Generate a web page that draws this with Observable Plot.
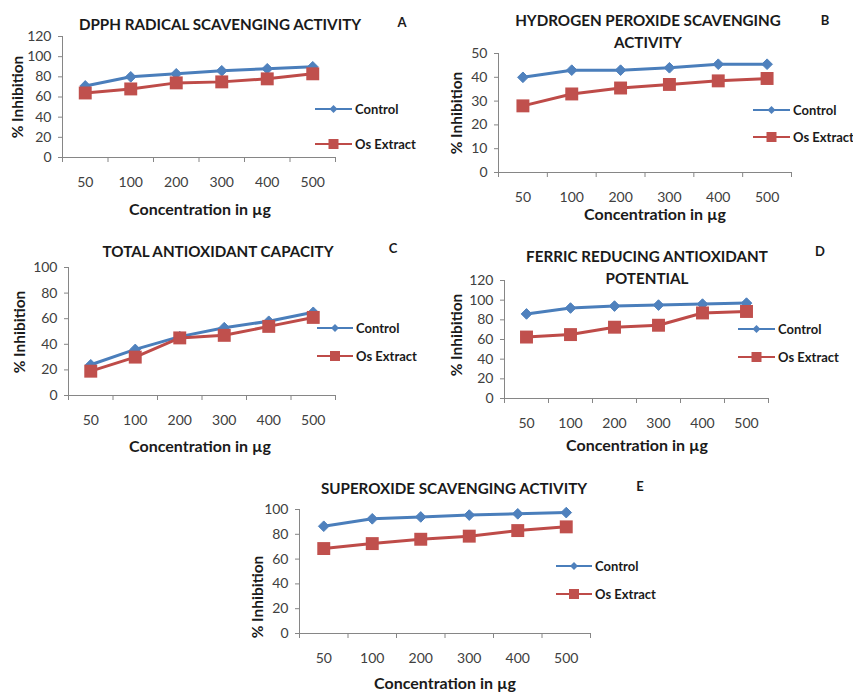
<!DOCTYPE html>
<html><head><meta charset="utf-8">
<script src="https://cdn.jsdelivr.net/npm/d3@7"></script>
<script src="https://cdn.jsdelivr.net/npm/@observablehq/plot@0.6"></script>
<style>
body{margin:0;background:#fff;font-family:Lato,"Open Sans",sans-serif;}
#page{position:relative;width:853px;height:692px;overflow:hidden;background:#fff;}
.panel{position:absolute;overflow:hidden;}
.panel svg{position:absolute;left:0;top:0;}
.t{position:absolute;white-space:nowrap;line-height:1;transform:translate(-50%,-50%);font-weight:bold;color:#1a1a1a;}
.title{font-size:15.2px;}
.letter{font-size:13px;}
.xt{font-size:16px;}
.yt{font-size:15.5px;transform:translate(-50%,-50%) rotate(-90deg);}
.leg{position:absolute;white-space:nowrap;font-size:13px;font-weight:bold;color:#1a1a1a;line-height:1;transform:translateY(-50%);}
.sw{position:absolute;overflow:visible;}
</style></head><body><div id="page"></div>
<script>
// ---- data ----
const concentrations = ["50", "100", "200", "300", "400", "500"];
const seriesNames = ["Control", "Os Extract"];
const xAxisTitle = "Concentration in µg";
const yAxisTitle = "% Inhibition";

const titleA = ["DPPH RADICAL SCAVENGING ACTIVITY"];
const dpphControl = [71, 80, 83, 86, 88, 90];
const dpphOs = [64, 68, 74, 75, 78, 83];
const ticksA = [0, 20, 40, 60, 80, 100, 120];

const titleB = ["HYDROGEN PEROXIDE SCAVENGING", "ACTIVITY"];
const h2o2Control = [40, 43, 43, 44, 45.5, 45.5];
const h2o2Os = [28, 33, 35.5, 37, 38.5, 39.5];
const ticksB = [0, 10, 20, 30, 40, 50];

const titleC = ["TOTAL ANTIOXIDANT CAPACITY"];
const tacControl = [24, 36, 46, 53, 58, 65];
const tacOs = [19, 30, 45, 47, 54, 61];
const ticksC = [0, 20, 40, 60, 80, 100];

const titleD = ["FERRIC REDUCING ANTIOXIDANT", "POTENTIAL"];
const frapControl = [86, 92, 94, 95, 96, 97];
const frapOs = [62.5, 65, 72.5, 74.5, 87, 88.5];
const ticksD = [0, 20, 40, 60, 80, 100, 120];

const titleE = ["SUPEROXIDE SCAVENGING ACTIVITY"];
const soControl = [86.5, 92.5, 94, 95.5, 96.5, 97.5];
const soOs = [68.5, 72.5, 76, 78.5, 83, 86];
const ticksE = [0, 20, 40, 60, 80, 100];

const panelLetters = ["A", "B", "C", "D", "E"];

// ---- style ----
const colControlLine = "#4A7EBB", colControl = "#4F81BD";
const colOsLine = "#BE4B48", colOs = "#C0504D";
const axisCol = "#868686";

// ---- layout (page pixel coordinates) ----
const panels = [
  {title: titleA, control: dpphControl, os: dpphOs, ticks: ticksA, letter: panelLetters[0],
   box: [0, 0, 425, 228], frame: [62, 335, 36, 157], titleC: [220, 25], letterAt: [402, 22],
   xt: [200, 209], yt: [18, 97], leg: [315, 352, 355, 109, 144]},
  {title: titleB, control: h2o2Control, os: h2o2Os, ticks: ticksB, letter: panelLetters[1],
   box: [425, 0, 428, 228], frame: [498, 791, 53, 172], titleC: [648, 21], letterAt: [825, 20],
   xt: [655, 214], yt: [457, 113], leg: [753, 790, 793, 110, 137]},
  {title: titleC, control: tacControl, os: tacOs, ticks: ticksC, letter: panelLetters[2],
   box: [0, 228, 425, 234], frame: [68, 335, 267, 395], titleC: [218, 252], letterAt: [393, 248],
   xt: [200, 446], yt: [20, 332], leg: [317, 353, 356, 328, 356]},
  {title: titleD, control: frapControl, os: frapOs, ticks: ticksD, letter: panelLetters[3],
   box: [425, 228, 428, 234], frame: [504, 768, 280, 398], titleC: [647, 257], letterAt: [820, 251],
   xt: [637, 445], yt: [457, 335], leg: [738, 775, 778, 329, 357]},
  {title: titleE, control: soControl, os: soOs, ticks: ticksE, letter: panelLetters[4],
   box: [240, 462, 440, 230], frame: [299, 590, 509, 633], titleC: [454, 489], letterAt: [640, 486],
   xt: [445, 683], yt: [258, 597], leg: [556, 592, 595, 566, 594]}
];

const page = document.getElementById("page");

function addText(parent, cls, txt, x, y) {
  const d = document.createElement("div");
  d.className = cls; d.textContent = txt;
  d.style.left = x + "px"; d.style.top = y + "px";
  parent.appendChild(d);
  return d;
}

function swatch(parent, x1, x2, y, color, lineColor, symbolName, size) {
  const svg = d3.create("svg").attr("class", "sw")
    .attr("width", x2 - x1 + 20).attr("height", 24)
    .style("left", (x1 - 10) + "px").style("top", (y - 12) + "px");
  svg.append("line").attr("x1", 10).attr("x2", x2 - x1 + 10).attr("y1", 12).attr("y2", 12)
    .attr("stroke", lineColor).attr("stroke-width", 2.2);
  svg.append("path").attr("transform", `translate(${(x2 - x1) / 2 + 10},12)`)
    .attr("d", d3.symbol(symbolName, size)()).attr("fill", color);
  parent.appendChild(svg.node());
}

for (const p of panels) {
  const [bx, by, bw, bh] = p.box;
  const div = document.createElement("div");
  div.className = "panel";
  Object.assign(div.style, {left: bx + "px", top: by + "px", width: bw + "px", height: bh + "px"});
  page.appendChild(div);

  const ctrl = concentrations.map((c, i) => ({i, c, v: p.control[i]}));
  const os = concentrations.map((c, i) => ({i, c, v: p.os[i]}));
  const yMax = p.ticks[p.ticks.length - 1];

  const chart = Plot.plot({
    width: bw, height: bh,
    marginLeft: p.frame[0] - bx, marginRight: bx + bw - p.frame[1],
    marginTop: p.frame[2] - by, marginBottom: by + bh - p.frame[3],
    style: {fontFamily: "Lato, 'Open Sans', sans-serif", fontSize: "14px", color: "#404040", background: "transparent", overflow: "visible"},
    x: {type: "linear", domain: [0, concentrations.length]},
    y: {domain: [0, yMax]},
    marks: [
      Plot.axisY({ticks: p.ticks, tickSize: 4, tickPadding: 7, stroke: axisCol, label: null}),
      Plot.axisX({ticks: d3.range(concentrations.length + 1), tickSize: 5, tickFormat: () => "", stroke: axisCol, label: null}),
      Plot.axisX({ticks: d3.range(concentrations.length).map(i => i + 0.5), tickSize: 0, tickPadding: 20,
        tickFormat: d => concentrations[Math.round(d - 0.5)], label: null}),
      Plot.ruleY([0], {stroke: axisCol}),
      Plot.ruleX([0], {stroke: axisCol}),
      Plot.line(ctrl, {x: d => d.i + 0.5, y: "v", stroke: colControlLine, strokeWidth: 3}),
      Plot.dot(ctrl, {x: d => d.i + 0.5, y: "v", symbol: "diamond2", r: 4.8, fill: colControl, stroke: colControl, strokeWidth: 1}),
      Plot.line(os, {x: d => d.i + 0.5, y: "v", stroke: colOsLine, strokeWidth: 3}),
      Plot.dot(os, {x: d => d.i + 0.5, y: "v", symbol: "square", r: 7.3, fill: colOs})
    ]
  });
  div.appendChild(chart);

  // titles
  p.title.forEach((line, k) => addText(div, "t title", line, p.titleC[0] - bx, p.titleC[1] - by + k * 21.5));
  addText(div, "t letter", p.letter, p.letterAt[0] - bx, p.letterAt[1] - by);
  addText(div, "t xt", xAxisTitle, p.xt[0] - bx, p.xt[1] - by);
  addText(div, "t yt", yAxisTitle, p.yt[0] - bx, p.yt[1] - by);

  // legend
  const [lx1, lx2, tx, ly1, ly2] = p.leg;
  swatch(div, lx1 - bx, lx2 - bx, ly1 - by, colControl, colControlLine, d3.symbolDiamond2, 40);
  swatch(div, lx1 - bx, lx2 - bx, ly2 - by, colOs, colOsLine, d3.symbolSquare, 100);
  addText(div, "leg", seriesNames[0], tx - bx, ly1 - by);
  addText(div, "leg", seriesNames[1], tx - bx, ly2 - by);
}
</script></body></html>
